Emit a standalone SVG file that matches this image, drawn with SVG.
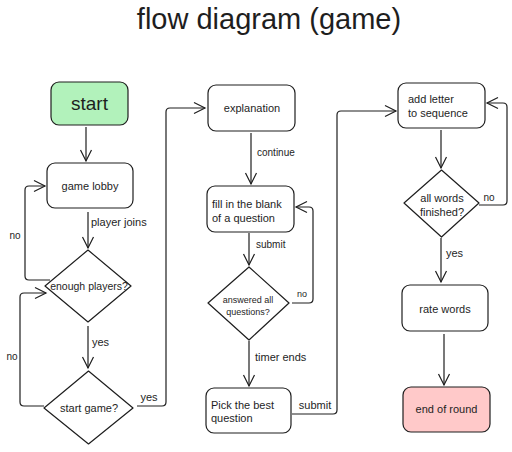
<svg xmlns="http://www.w3.org/2000/svg" width="512" height="452" viewBox="0 0 512 452">
<style>
.box{fill:#ffffff;stroke:#1e1e1e;stroke-width:1.2}
.t{font-family:"Liberation Sans",Arial,sans-serif;fill:#1e1e1e;font-size:11px}
.c{text-anchor:middle}
.ln{fill:none;stroke:#1e1e1e;stroke-width:1.2}
</style>
<defs>
<marker id="ah" markerUnits="userSpaceOnUse" markerWidth="14" markerHeight="14" viewBox="-12 -7 14 14" refX="0" refY="0" orient="auto">
<path d="M-11,-5.5 L0,0 L-11,5.5" fill="none" stroke="#1e1e1e" stroke-width="1.2"/>
</marker>
</defs>
<rect width="512" height="452" fill="#ffffff"/>
<text id="title" x="269" y="29" class="t c" style="font-size:29px">flow diagram (game)</text>

<g id="connectors">
<path class="ln" marker-end="url(#ah)" d="M86,127 L86,161"/>
<path class="ln" marker-end="url(#ah)" d="M88,212 L88,248"/>
<path class="ln" marker-end="url(#ah)" d="M88,326 L88,368"/>
<path class="ln" marker-end="url(#ah)" d="M251,133 L251,184"/>
<path class="ln" marker-end="url(#ah)" d="M249,233 L249,265"/>
<path class="ln" marker-end="url(#ah)" d="M249,341 L249,386"/>
<path class="ln" marker-end="url(#ah)" d="M441,130 L441,168"/>
<path class="ln" marker-end="url(#ah)" d="M441,238 L441,282"/>
<path class="ln" marker-end="url(#ah)" d="M444,334 L444,385"/>
<path class="ln" marker-end="url(#ah)" d="M50,280 L29,280 Q25,280 25,276 L25,190 Q25,186 29,186 L45,186"/>
<path class="ln" marker-end="url(#ah)" d="M44,406 L24,406 Q20,406 20,402 L20,297 Q20,293 24,293 L46,293"/>
<path class="ln" marker-end="url(#ah)" d="M137,406 L162,406 Q166,406 166,402 L166,112 Q166,108 170,108 L205,108"/>
<path class="ln" marker-end="url(#ah)" d="M292,303 L309,303 Q313,303 313,299 L313,211 Q313,207 309,207 L296,207"/>
<path class="ln" marker-end="url(#ah)" d="M292,414 L333,414 Q337,414 337,410 L337,115 Q337,111 341,111 L396,111"/>
<path class="ln" marker-end="url(#ah)" d="M479,205 L503,205 Q507,205 507,201 L507,107 Q507,103 503,103 L487,103"/>
<text x="91" y="226" class="t">player joins</text>
<text x="15" y="239" class="t c" style="font-size:10px">no</text>
<text x="92" y="346" class="t">yes</text>
<text x="12" y="360" class="t c" style="font-size:10px">no</text>
<text x="149" y="401" class="t c">yes</text>
<text x="257" y="156" class="t" style="font-size:10px">continue</text>
<text x="256" y="248" class="t" style="font-size:10px">submit</text>
<text x="302" y="297" class="t c" style="font-size:9px">no</text>
<text x="255" y="361" class="t">timer ends</text>
<text x="315" y="409" class="t c">submit</text>
<text x="489" y="201" class="t c" style="font-size:10px">no</text>
<text x="446" y="257" class="t">yes</text>
</g>

<g id="start">
<rect x="51" y="82" width="77" height="43" rx="8" class="box" style="fill:#b2f2bb"/>
<text x="89.5" y="110" class="t c" style="font-size:19px">start</text>
</g>
<g id="game-lobby">
<rect x="47" y="163" width="86" height="45" rx="8" class="box"/>
<text x="90" y="190" class="t c">game lobby</text>
</g>
<g id="enough-players">
<path d="M88,250 L131,286 L88,322 L45,286 Z" class="box" stroke-linejoin="round"/>
<text x="89" y="290" class="t c" style="font-size:10.5px">enough players?</text>
</g>
<g id="start-game">
<path d="M88.5,371 L133,408 L88.5,444 L44,408 Z" class="box" stroke-linejoin="round"/>
<text x="89" y="412" class="t c">start game?</text>
</g>
<g id="explanation">
<rect x="208" y="85" width="87" height="46" rx="8" class="box"/>
<text x="252" y="112" class="t c">explanation</text>
</g>
<g id="fill-blank">
<rect x="207" y="186" width="87" height="46" rx="8" class="box"/>
<text x="212" y="208" class="t">fill in the blank</text>
<text x="212" y="222" class="t">of a question</text>
</g>
<g id="answered-all">
<path d="M249,267 L289,303 L249,340 L208,303 Z" class="box" stroke-linejoin="round"/>
<text x="248" y="303" class="t c" style="font-size:9px">answered all</text>
<text x="248" y="315" class="t c" style="font-size:9px">questions?</text>
</g>
<g id="pick-best">
<rect x="206" y="388" width="85" height="45" rx="8" class="box"/>
<text x="211" y="409" class="t">Pick the best</text>
<text x="211" y="422" class="t">question</text>
</g>
<g id="add-letter">
<rect x="398" y="83" width="87" height="45" rx="8" class="box"/>
<text x="408" y="103" class="t">add letter</text>
<text x="408" y="117" class="t">to sequence</text>
</g>
<g id="all-words">
<path d="M441.5,170 L479,203 L441.5,237 L404,203 Z" class="box" stroke-linejoin="round"/>
<text x="442" y="202" class="t c">all words</text>
<text x="442" y="216" class="t c">finished?</text>
</g>
<g id="rate-words">
<rect x="402" y="285" width="86" height="46" rx="8" class="box"/>
<text x="445" y="313" class="t c">rate words</text>
</g>
<g id="end-of-round">
<rect x="403" y="387" width="87" height="45" rx="8" class="box" style="fill:#ffc9c9"/>
<text x="446.5" y="413" class="t c">end of round</text>
</g>
</svg>
